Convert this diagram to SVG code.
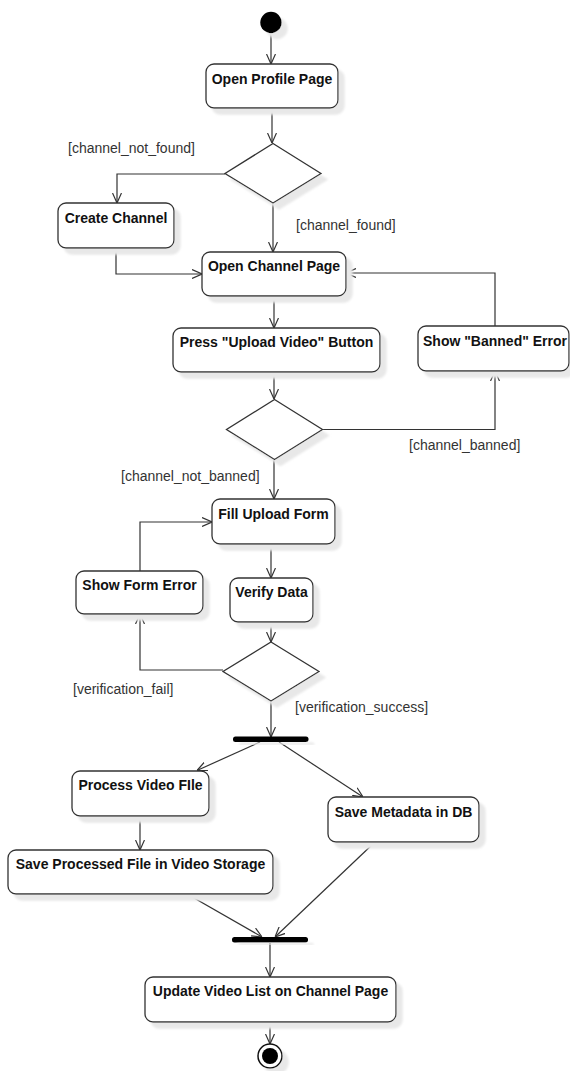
<svg xmlns="http://www.w3.org/2000/svg" width="570" height="1071" viewBox="0 0 570 1071">
<style>
.box{fill:#ffffff;stroke:#333333;stroke-width:1.3;filter:url(#sh)}
.dia{fill:#ffffff;stroke:#333333;stroke-width:1.3;filter:url(#sh)}
.bar{fill:#000000;filter:url(#sh)}
.t{font-family:"Liberation Sans",Arial,sans-serif;font-size:14px;font-weight:bold;fill:#111111;text-anchor:middle}
.lbl{font-family:"Liberation Sans",Arial,sans-serif;font-size:14px;fill:#333333}
.c{fill:none;stroke:#333333;stroke-width:1.2;marker-end:url(#arr)}
</style>
<defs>
<filter id="sh" x="-20%" y="-20%" width="150%" height="160%">
<feFlood flood-color="#e8e8e8" result="f"/>
<feComposite in="f" in2="SourceAlpha" operator="in" result="s"/>
<feOffset in="s" dx="6" dy="6" result="o"/>
<feGaussianBlur in="o" stdDeviation="1" result="b"/>
<feMerge><feMergeNode in="b"/><feMergeNode in="SourceGraphic"/></feMerge>
</filter>
<marker id="arr" viewBox="0 0 10 10" refX="10" refY="5" markerWidth="10" markerHeight="10" markerUnits="userSpaceOnUse" orient="auto">
<path d="M0,0.5 L10,5 L0,9.5" fill="none" stroke="#333333" stroke-width="1.2"/>
</marker>
</defs>

<g id="connectors">
<path class="c" d="M271,33.5 L271,64"/>
<path class="c" d="M272,108 L272,143"/>
<path class="c" d="M225,174 L117,174 L117,203"/>
<path class="c" d="M273,203 L273,252"/>
<path class="c" d="M116,248 L116,274 L202,274"/>
<path class="c" d="M495,326 L495,273 L346,273"/>
<path class="c" d="M274,296 L274,328"/>
<path class="c" d="M274,372 L274,399"/>
<path class="c" d="M322.5,429.5 L495,429.5 L495,371"/>
<path class="c" d="M274,459 L274,499"/>
<path class="c" d="M271,544 L271,578"/>
<path class="c" d="M140,571 L140,522 L212,522"/>
<path class="c" d="M271,622 L271,642"/>
<path class="c" d="M223,670 L140,670 L140,614"/>
<path class="c" d="M271,701 L271,737"/>
<path class="c" d="M260,742 L197,770.5"/>
<path class="c" d="M279,742 L363,797"/>
<path class="c" d="M140,816 L140,850"/>
<path class="c" d="M187,894 L262,937"/>
<path class="c" d="M375,842 L275,937"/>
<path class="c" d="M270,943 L270,977"/>
<path class="c" d="M270,1022 L270,1044"/>
</g>

<g id="start"><circle cx="271" cy="22.5" r="10.7" fill="#000000" filter="url(#sh)"/></g>

<g id="n-open-profile"><rect class="box" x="206" y="64" width="132" height="44" rx="8"/><text class="t" x="272" y="83.5">Open Profile Page</text></g>

<g id="d1"><polygon class="dia" points="273,143.5 321,173.5 273,203 225,173.5"/></g>
<g id="l-not-found"><text class="lbl" x="68" y="153">[channel_not_found]</text></g>
<g id="l-found"><text class="lbl" x="296" y="230">[channel_found]</text></g>

<g id="n-create-channel"><rect class="box" x="58" y="203" width="116" height="45" rx="8"/><text class="t" x="116" y="222.5">Create Channel</text></g>

<g id="n-open-channel"><rect class="box" x="202" y="252" width="144" height="44" rx="8"/><text class="t" x="274" y="271">Open Channel Page</text></g>

<g id="n-press-upload"><rect class="box" x="173" y="328" width="207" height="44" rx="8"/><text class="t" x="276.5" y="347">Press "Upload Video" Button</text></g>

<g id="n-banned"><rect class="box" x="418" y="326" width="151" height="45" rx="8"/><text class="t" x="495" y="345.5">Show "Banned" Error</text></g>

<g id="d2"><polygon class="dia" points="274.5,399.5 322.5,429.5 274.5,459.5 226.5,429.5"/></g>
<g id="l-banned"><text class="lbl" x="409" y="450">[channel_banned]</text></g>
<g id="l-not-banned"><text class="lbl" x="121" y="481">[channel_not_banned]</text></g>

<g id="n-fill-form"><rect class="box" x="212" y="499" width="123" height="45" rx="8"/><text class="t" x="273.5" y="518.5">Fill Upload Form</text></g>

<g id="n-form-error"><rect class="box" x="76" y="571" width="127" height="43" rx="8"/><text class="t" x="139.5" y="590">Show Form Error</text></g>

<g id="n-verify"><rect class="box" x="230" y="578" width="83" height="44" rx="8"/><text class="t" x="271.5" y="597">Verify Data</text></g>

<g id="d3"><polygon class="dia" points="271,642 319,671.5 271,701 223,671.5"/></g>
<g id="l-fail"><text class="lbl" x="73" y="694">[verification_fail]</text></g>
<g id="l-success"><text class="lbl" x="295" y="712">[verification_success]</text></g>

<g id="fork"><rect class="bar" x="233" y="736.5" width="75.5" height="5.5" rx="2.5"/></g>

<g id="n-process"><rect class="box" x="72" y="771" width="137" height="45" rx="8"/><text class="t" x="140.5" y="790">Process Video FIle</text></g>

<g id="n-metadata"><rect class="box" x="328" y="797" width="151" height="45" rx="8"/><text class="t" x="403.5" y="816.5">Save Metadata in DB</text></g>

<g id="n-save-processed"><rect class="box" x="8" y="850" width="265" height="44" rx="8"/><text class="t" x="140.5" y="869">Save Processed File in Video Storage</text></g>

<g id="join"><rect class="bar" x="232" y="937" width="76" height="5.5" rx="2.5"/></g>

<g id="n-update"><rect class="box" x="145" y="977" width="251" height="45" rx="8"/><text class="t" x="270.5" y="996">Update Video List on Channel Page</text></g>

<g id="end"><circle cx="270" cy="1056" r="12" fill="#ffffff" stroke="#111111" stroke-width="1.5" filter="url(#sh)"/><circle cx="270" cy="1056" r="8" fill="#000000"/></g>
</svg>
